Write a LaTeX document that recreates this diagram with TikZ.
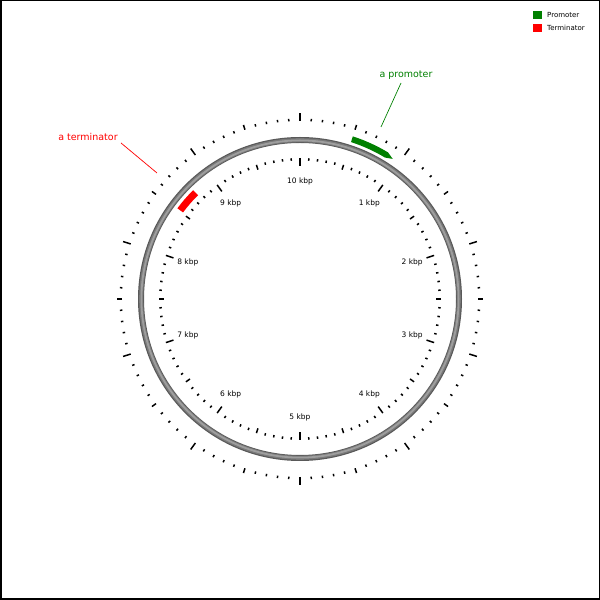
\documentclass[tikz,border=0pt]{standalone}
\usepackage{fontspec}
\setmainfont{DejaVu Sans}
\begin{document}
\begin{tikzpicture}[x=1pt,y=1pt,
  tick/.style={line width=1.5pt,black},
  kbplabel/.style={font=\fontsize{7.5}{8}\selectfont,inner sep=0pt},
  featlabel/.style={font=\fontsize{9.5}{11}\selectfont,inner sep=0pt},
  legtext/.style={font=\fontsize{7}{8}\selectfont,inner sep=0pt,anchor=west},
  leader/.style={line width=0.7pt}]
\useasboundingbox (0,0) rectangle (600,600);
\draw[line width=1.5pt] (0.75,0.75) rectangle (599.25,599.25);
\begin{scope}[shift={(300,301)}]
  % backbone ring
  \draw[line width=6pt,black!65] (0,0) circle[radius=159];
  \draw[line width=4pt,black!52] (0,0) circle[radius=158.8];
  \draw[line width=1.8pt,black!38] (0,0) circle[radius=158.6];
  % ticks
  \foreach \i in {0,...,99}{
    \pgfmathsetmacro\a{90-3.6*\i}
    \pgfmathtruncatemacro\m{mod(\i,10)}
    \pgfmathtruncatemacro\h{mod(\i,5)}
    \ifnum\m=0 \def\lo{8}\else\ifnum\h=0 \def\lo{5}\else\def\lo{2.5}\fi\fi
    \pgfmathsetmacro\ro{178+\lo}
    \pgfmathsetmacro\ri{141-\lo}
    \draw[tick] (\a:178) -- (\a:\ro);
    \draw[tick] (\a:141) -- (\a:\ri);
  }
  % kbp labels
  \foreach \k in {1,...,10}{
    \pgfmathsetmacro\a{90-36*\k}
    \node[kbplabel] (kbp\k) at (\a:118) {\k\ kbp};
  }
  % promoter feature
  \fill[green!50!black] (72:171) arc[start angle=72,end angle=59,radius=171]
     -- (56.5:168) -- (59:165) arc[start angle=59,end angle=72,radius=165] -- cycle;
  % terminator feature
  \fill[red] (143.5:152.5) arc[start angle=143.5,end angle=134.5,radius=152.5]
     -- (134.5:145.5) arc[start angle=134.5,end angle=143.5,radius=145.5] -- cycle;
  \coordinate (pfeat) at (-300+381,-301+473);
  \coordinate (tfeat) at (-300+157,-301+427);
\end{scope}
% feature labels
\node[featlabel,text=green!50!black] (plab) at (406,525) {a promoter};
\node[featlabel,text=red] (tlab) at (88,463) {a terminator};
\coordinate (pstart) at (401,517);
\coordinate (tstart) at (121,457);
\draw[leader,green!50!black] (pstart) -- (pfeat);
\draw[leader,red] (tstart) -- (tfeat);
% legend
\fill[green!50!black] (533,581) rectangle (542,589);
\node[legtext] (lt1) at (547,585) {Promoter};
\fill[red] (533,568) rectangle (542,576);
\node[legtext] (lt2) at (547,572) {Terminator};
\end{tikzpicture}
\end{document}
